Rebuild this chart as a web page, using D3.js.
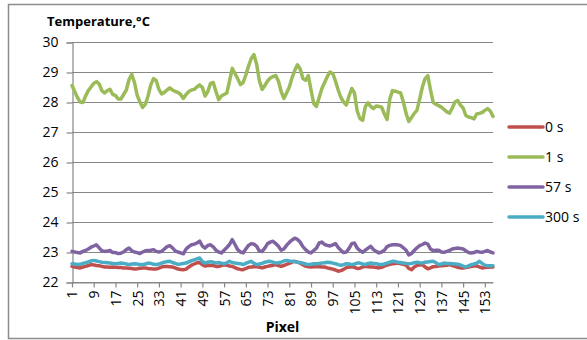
<!DOCTYPE html>
<html>
<head>
<meta charset="utf-8">
<script src="https://cdn.jsdelivr.net/npm/d3@7"></script>
<style>
  body { margin: 0; background: #fff; }
  text { font-family: "Open Sans", sans-serif; fill: #000; }
</style>
</head>
<body>
<svg id="chart"></svg>
<script>
// categories 1..156 (pixel index)
const categories = d3.range(1, 157);
const seriesNames = ['0 s', '1 s', '57 s', '300 s'];
const yTicks = [22, 23, 24, 25, 26, 27, 28, 29, 30];

const s0 = [22.52,22.5,22.48,22.47,22.5,22.52,22.55,22.58,22.57,22.55,22.54,22.52,22.5,22.5,22.49,22.5,22.49,22.48,22.48,22.47,
  22.47,22.46,22.45,22.43,22.44,22.46,22.47,22.47,22.45,22.44,22.43,22.43,22.46,22.5,22.52,22.52,22.51,22.5,22.47,22.43,
  22.42,22.41,22.43,22.5,22.56,22.6,22.64,22.65,22.58,22.53,22.55,22.56,22.55,22.52,22.52,22.55,22.57,22.56,22.53,22.52,
  22.48,22.44,22.42,22.41,22.45,22.49,22.5,22.51,22.52,22.49,22.47,22.5,22.52,22.54,22.56,22.58,22.55,22.52,22.55,22.59,
  22.62,22.66,22.69,22.66,22.63,22.58,22.53,22.51,22.5,22.51,22.52,22.51,22.5,22.5,22.47,22.45,22.43,22.4,22.36,22.38,
  22.42,22.48,22.5,22.51,22.49,22.45,22.46,22.5,22.52,22.51,22.5,22.5,22.48,22.47,22.49,22.53,22.56,22.59,22.61,22.62,
  22.63,22.61,22.59,22.56,22.45,22.41,22.5,22.55,22.57,22.58,22.5,22.44,22.47,22.51,22.52,22.53,22.54,22.55,22.56,22.58,
  22.55,22.52,22.49,22.47,22.47,22.48,22.5,22.52,22.53,22.54,22.5,22.47,22.48,22.49,22.5,22.5];

const s1 = [28.55,28.35,28.15,28.0,27.98,28.2,28.38,28.5,28.62,28.68,28.6,28.38,28.3,28.38,28.42,28.25,28.22,28.1,28.1,28.25,
  28.4,28.75,28.92,28.65,28.22,28.0,27.82,27.92,28.2,28.57,28.78,28.72,28.42,28.27,28.32,28.4,28.47,28.4,28.35,28.32,
  28.25,28.12,28.25,28.35,28.4,28.42,28.5,28.57,28.48,28.2,28.35,28.62,28.65,28.35,28.08,28.2,28.25,28.3,28.7,29.12,
  28.95,28.78,28.58,28.65,28.9,29.2,29.45,29.58,29.25,28.7,28.42,28.55,28.7,28.8,28.85,28.88,28.7,28.35,28.12,28.3,
  28.5,28.8,29.05,29.24,29.1,28.78,28.72,28.88,28.4,27.95,27.85,28.15,28.45,28.65,28.85,29.0,28.95,28.7,28.4,28.15,
  28.0,27.9,28.2,28.45,28.3,27.7,27.45,27.39,27.85,27.97,27.85,27.78,27.87,27.85,27.83,27.6,27.42,28.1,28.38,28.36,
  28.33,28.3,28.0,27.62,27.35,27.48,27.62,27.72,28.1,28.5,28.78,28.88,28.4,27.98,27.92,27.88,27.83,27.75,27.67,27.63,
  27.8,28.0,28.05,27.9,27.8,27.55,27.5,27.48,27.44,27.6,27.62,27.65,27.72,27.78,27.7,27.52];

const s57 = [23.02,23.0,22.98,22.97,23.02,23.05,23.1,23.16,23.2,23.24,23.14,23.04,23.02,23.03,23.05,22.98,22.98,22.95,22.96,23.0,
  23.08,23.13,23.04,23.0,22.98,22.95,23.0,23.04,23.05,23.06,23.08,23.02,23.0,23.02,23.1,23.18,23.21,23.14,23.04,23.0,
  22.97,22.94,23.1,23.18,23.24,23.26,23.3,23.36,23.2,23.13,23.22,23.24,23.17,23.06,23.0,22.97,23.06,23.15,23.25,23.41,
  23.25,23.08,23.0,22.97,23.1,23.22,23.28,23.26,23.19,23.03,23.02,23.13,23.28,23.33,23.36,23.28,23.19,23.06,23.1,23.22,
  23.32,23.4,23.46,23.42,23.33,23.18,23.08,23.0,22.97,23.05,23.13,23.3,23.33,23.25,23.22,23.2,23.24,23.28,23.15,23.06,
  22.98,23.0,23.12,23.28,23.3,23.13,23.05,22.99,23.06,23.13,23.19,23.08,23.02,22.97,23.0,23.06,23.18,23.22,23.24,23.24,
  23.24,23.21,23.14,23.06,22.9,22.95,23.05,23.14,23.21,23.25,23.3,23.26,23.1,23.04,23.06,23.06,23.0,22.99,23.02,23.05,
  23.1,23.12,23.13,23.12,23.1,23.04,22.98,22.97,22.98,23.02,23.0,22.99,23.02,23.05,23.0,22.97];

const s300 = [22.61,22.6,22.58,22.59,22.62,22.64,22.67,22.7,22.72,22.7,22.68,22.66,22.65,22.64,22.63,22.62,22.61,22.62,22.63,22.62,
  22.6,22.58,22.6,22.61,22.6,22.58,22.58,22.6,22.63,22.62,22.59,22.58,22.6,22.63,22.66,22.68,22.69,22.65,22.62,22.59,
  22.6,22.62,22.63,22.67,22.71,22.74,22.77,22.8,22.68,22.63,22.66,22.68,22.66,22.63,22.65,22.63,22.61,22.64,22.69,22.65,
  22.63,22.62,22.61,22.58,22.62,22.66,22.69,22.62,22.58,22.6,22.62,22.66,22.68,22.69,22.66,22.63,22.64,22.66,22.7,22.72,
  22.7,22.69,22.68,22.66,22.65,22.63,22.6,22.58,22.59,22.61,22.61,22.62,22.63,22.64,22.66,22.65,22.63,22.61,22.58,22.56,
  22.58,22.61,22.6,22.58,22.6,22.63,22.63,22.6,22.58,22.62,22.63,22.62,22.61,22.59,22.58,22.6,22.63,22.66,22.69,22.68,
  22.66,22.65,22.63,22.62,22.61,22.62,22.64,22.66,22.64,22.63,22.66,22.67,22.68,22.69,22.64,22.58,22.6,22.63,22.62,22.62,
  22.61,22.6,22.59,22.57,22.53,22.5,22.54,22.58,22.6,22.63,22.69,22.62,22.56,22.54,22.54,22.54];

const seriesValues = [s0, s1, s57, s300];
const colors = ['#C0504D', '#9BBB59', '#8064A2', '#4BACC6'];

const width = 587, height = 340;
const svg = d3.select('#chart').attr('width', width).attr('height', height);

// outer chart border
svg.append('rect')
  .attr('x', 8.5).attr('y', 4.5)
  .attr('width', 600).attr('height', 334)
  .attr('fill', 'none').attr('stroke', '#8c8c8c').attr('stroke-width', 1.5);

const xScale = d3.scalePoint().domain(categories).range([72, 493]);
const yScale = d3.scaleLinear().domain([22, 30]).range([282, 42]);

// gridlines
svg.append('g')
  .selectAll('line')
  .data(yTicks)
  .enter().append('line')
  .attr('x1', 72).attr('x2', 493)
  .attr('y1', d => Math.round(yScale(d)) + 0.5)
  .attr('y2', d => Math.round(yScale(d)) + 0.5)
  .attr('stroke', '#878787').attr('stroke-width', 1.2);

// y axis
const y_axis = d3.axisLeft(yScale).tickValues(yTicks).tickSize(6).tickPadding(8).tickFormat(d3.format('d'));
const gy = svg.append('g').attr('transform', 'translate(72.5, 0.5)').call(y_axis);
gy.selectAll('path, line').attr('stroke', '#878787').attr('stroke-width', 1.2);
gy.selectAll('text').style('font-size', '14px').style('font-family', '"Open Sans", sans-serif');

// x axis
const x_axis = d3.axisBottom(xScale)
  .tickValues(categories.filter(d => (d - 1) % 8 === 0))
  .tickSize(5).tickSizeOuter(0);
const gx = svg.append('g').attr('transform', 'translate(0, 282.5)').call(x_axis);
gx.select('.domain').attr('stroke', '#878787').attr('stroke-width', 1.2);
gx.selectAll('line').attr('stroke', '#878787').attr('stroke-width', 1.2);
gx.selectAll('text')
  .style('font-size', '14px')
  .style('font-family', '"Open Sans", sans-serif')
  .style('text-anchor', 'end')
  .attr('transform', 'rotate(-90)')
  .attr('x', -8).attr('y', 0).attr('dy', '0.35em');

// lines
const line = d3.line()
  .x((d, i) => xScale(categories[i]))
  .y(d => yScale(d));

svg.append('g').selectAll('path')
  .data(seriesValues)
  .enter().append('path')
  .attr('d', d => line(d))
  .attr('fill', 'none')
  .attr('stroke', (d, i) => colors[i])
  .attr('stroke-width', 3.5)
  .attr('stroke-linejoin', 'round')
  .attr('stroke-linecap', 'round');

// titles
svg.append('text')
  .attr('x', 47).attr('y', 26)
  .style('font-size', '13px').style('font-weight', 'bold')
  .text('Temperature,°C');

svg.append('text')
  .attr('x', (72 + 493) / 2).attr('y', 332)
  .attr('text-anchor', 'middle')
  .style('font-size', '14px').style('font-weight', 'bold')
  .text('Pixel');

// legend
const legend = svg.append('g').selectAll('g')
  .data(seriesNames)
  .enter().append('g')
  .attr('transform', (d, i) => `translate(0, ${127 + i * 30})`);

legend.append('line')
  .attr('x1', 509).attr('x2', 543)
  .attr('stroke', (d, i) => colors[i])
  .attr('stroke-width', 3.5)
  .attr('stroke-linecap', 'round');

legend.append('text')
  .attr('x', 545).attr('dy', '0.35em')
  .style('font-size', '14px')
  .text(d => d);
</script>
</body>
</html>
